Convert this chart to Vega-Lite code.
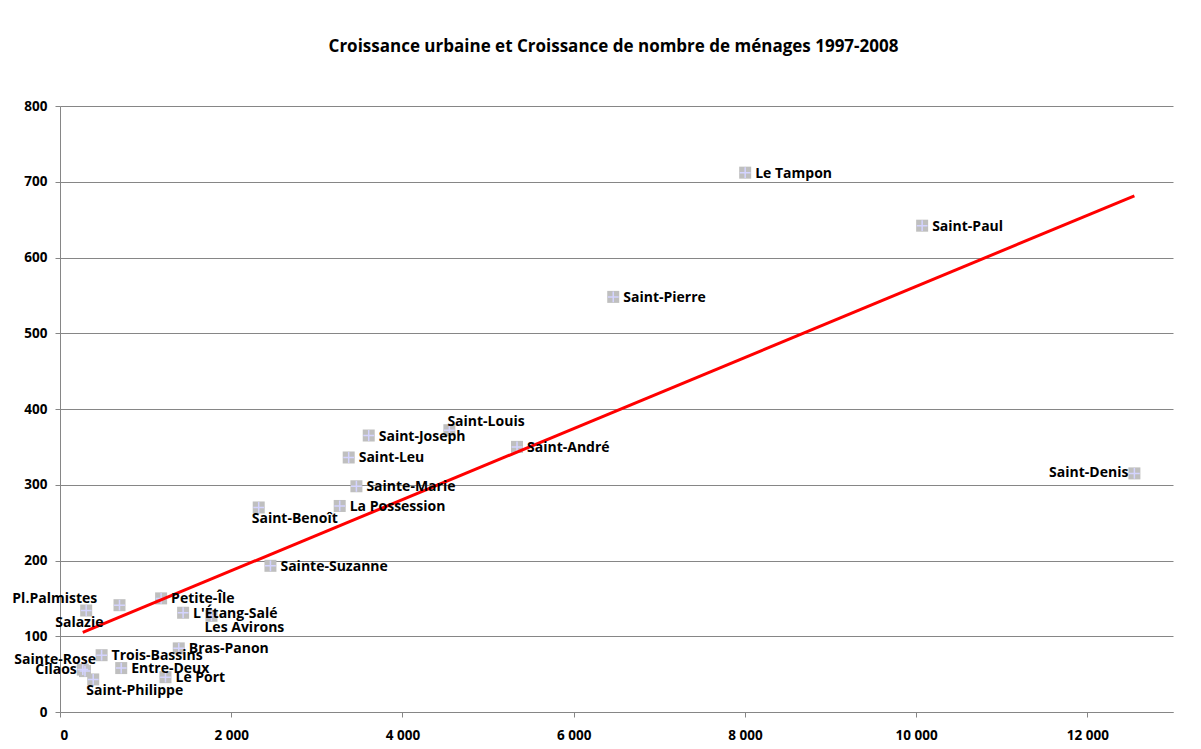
{
  "$schema": "https://vega.github.io/schema/vega-lite/v6.json",
  "width": 1113,
  "height": 606,
  "autosize": "none",
  "padding": {"left": 60, "top": 106, "right": 28, "bottom": 37},
  "background": "white",
  "title": {"text": "Croissance urbaine et Croissance de nombre de ménages 1997-2008", "font": "Open Sans", "fontSize": 17, "fontWeight": "bold", "color": "#000000", "offset": 43, "anchor": "middle", "dx": -3},
  "config": {"view": {"stroke": null}, "font": "Open Sans"},
  "data": {"values": [
    {"commune": "Le Tampon", "urbaine": 8003, "menages": 712, "position": "right"},
    {"commune": "Saint-Paul", "urbaine": 10070, "menages": 642, "position": "right"},
    {"commune": "Saint-Pierre", "urbaine": 6462, "menages": 548, "position": "right"},
    {"commune": "Saint-Louis", "urbaine": 4548, "menages": 372, "position": "aboveright"},
    {"commune": "Saint-Joseph", "urbaine": 3606, "menages": 365, "position": "right"},
    {"commune": "Saint-André", "urbaine": 5338, "menages": 350, "position": "right"},
    {"commune": "Saint-Leu", "urbaine": 3372, "menages": 336, "position": "right"},
    {"commune": "Sainte-Marie", "urbaine": 3462, "menages": 298, "position": "right"},
    {"commune": "La Possession", "urbaine": 3267, "menages": 272, "position": "right"},
    {"commune": "Saint-Benoît", "urbaine": 2321, "menages": 270, "position": "belowright"},
    {"commune": "Sainte-Suzanne", "urbaine": 2458, "menages": 193, "position": "right"},
    {"commune": "Saint-Denis", "urbaine": 12549, "menages": 315, "position": "left"},
    {"commune": "Pl.Palmistes", "urbaine": 306, "menages": 134, "position": "aboveleft"},
    {"commune": "Salazie", "urbaine": 695, "menages": 141, "position": "belowleft"},
    {"commune": "Petite-Île", "urbaine": 1181, "menages": 150, "position": "right"},
    {"commune": "L'Étang-Salé", "urbaine": 1438, "menages": 131, "position": "right"},
    {"commune": "Les Avirons", "urbaine": 1769, "menages": 127, "position": "belowright"},
    {"commune": "Bras-Panon", "urbaine": 1387, "menages": 84, "position": "right"},
    {"commune": "Trois-Bassins", "urbaine": 486, "menages": 75, "position": "right"},
    {"commune": "Entre-Deux", "urbaine": 715, "menages": 58, "position": "right"},
    {"commune": "Le Port", "urbaine": 1232, "menages": 46, "position": "right"},
    {"commune": "Sainte-Rose", "urbaine": 292, "menages": 54, "position": "aboveleft"},
    {"commune": "Cilaos", "urbaine": 266, "menages": 56, "position": "left"},
    {"commune": "Saint-Philippe", "urbaine": 388, "menages": 43, "position": "belowright"}
  ]},
  "encoding": {
    "x": {"field": "urbaine", "type": "quantitative", "scale": {"domain": [0, 13000], "nice": false, "zero": true},
      "axis": {"values": [0, 2000, 4000, 6000, 8000, 10000, 12000], "labelExpr": "replace(format(datum.value, ','), ',', ' ')", "grid": false, "title": null, "domainColor": "#868686", "tickColor": "#868686", "tickSize": 5, "labelFont": "Open Sans", "labelFontSize": 13.5, "labelFontWeight": "bold", "labelColor": "#000000", "labelPadding": 11}},
    "y": {"field": "menages", "type": "quantitative", "scale": {"domain": [0, 800], "nice": false},
      "axis": {"values": [0, 100, 200, 300, 400, 500, 600, 700, 800], "grid": true, "gridColor": "#868686", "title": null, "domainColor": "#868686", "tickColor": "#868686", "tickSize": 5, "labelFont": "Open Sans", "labelFontSize": 13.5, "labelFontWeight": "bold", "labelColor": "#000000", "labelPadding": 8}}
  },
  "layer": [
    {"mark": {"type": "point", "shape": "square", "filled": true, "size": 144, "color": "#bfbfbf", "opacity": 1}},
    {"mark": {"type": "point", "shape": "M-0.9,0L0.9,0M0,-0.9L0,0.9", "filled": false, "size": 144, "stroke": "#d4d4ff", "strokeWidth": 1.5, "opacity": 1}},
    {"transform": [{"regression": "menages", "on": "urbaine"}], "mark": {"type": "line", "color": "#ff0000", "strokeWidth": 3}},
    {"transform": [{"filter": "datum.position == 'right'"}], "mark": {"type": "text", "align": "left", "baseline": "middle", "dx": 10, "dy": 1, "font": "Open Sans", "fontSize": 14, "fontWeight": "bold", "color": "#000000"}, "encoding": {"text": {"field": "commune"}}},
    {"transform": [{"filter": "datum.position == 'left'"}], "mark": {"type": "text", "align": "right", "baseline": "middle", "dx": -6, "dy": 0, "font": "Open Sans", "fontSize": 14, "fontWeight": "bold", "color": "#000000"}, "encoding": {"text": {"field": "commune"}}},
    {"transform": [{"filter": "datum.position == 'aboveright'"}], "mark": {"type": "text", "align": "left", "baseline": "middle", "dx": -2, "dy": -8, "font": "Open Sans", "fontSize": 14, "fontWeight": "bold", "color": "#000000"}, "encoding": {"text": {"field": "commune"}}},
    {"transform": [{"filter": "datum.position == 'belowright'"}], "mark": {"type": "text", "align": "left", "baseline": "middle", "dx": -7, "dy": 12, "font": "Open Sans", "fontSize": 14, "fontWeight": "bold", "color": "#000000"}, "encoding": {"text": {"field": "commune"}}},
    {"transform": [{"filter": "datum.position == 'aboveleft'"}], "mark": {"type": "text", "align": "right", "baseline": "middle", "dx": 11, "dy": -11, "font": "Open Sans", "fontSize": 14, "fontWeight": "bold", "color": "#000000"}, "encoding": {"text": {"field": "commune"}}},
    {"transform": [{"filter": "datum.position == 'belowleft'"}], "mark": {"type": "text", "align": "right", "baseline": "middle", "dx": -16, "dy": 18, "font": "Open Sans", "fontSize": 14, "fontWeight": "bold", "color": "#000000"}, "encoding": {"text": {"field": "commune"}}}
  ]
}
